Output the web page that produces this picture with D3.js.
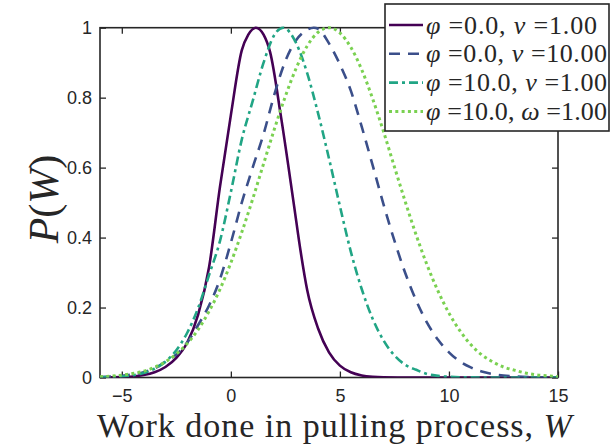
<!DOCTYPE html>
<html>
<head>
<meta charset="utf-8">
<script src="https://cdn.jsdelivr.net/npm/d3@7"></script>
<style>
  body { margin: 0; background: #fff; }
  svg { display: block; }
</style>
</head>
<body>
<svg id="chart" width="611" height="446"></svg>
<script>
// Work distributions P(W) for four pulling protocols (each normalised to a peak of 1)
const workA = [-6, -5, -4.5, -4, -3.5, -3, -2.5, -2, -1.5, -1, -0.5, 0, 0.5, 0.8, 1.15, 1.5, 1.8, 2.3, 2.9, 3.2, 3.5, 4, 4.5, 5, 5.5, 6, 6.5, 7, 8, 15];
const probA = [0, 0.001, 0.003, 0.007, 0.015, 0.03, 0.056, 0.1, 0.18, 0.315, 0.545, 0.75, 0.935, 0.98, 1, 0.98, 0.93, 0.745, 0.49, 0.36, 0.25, 0.14, 0.072, 0.034, 0.015, 0.006, 0.002, 0.0005, 0, 0];

const workB = [-6, -5, -4.5, -4, -3.5, -3, -2.5, -2, -1.5, -1, -0.5, 0, 0.5, 1, 1.5, 2, 2.5, 3, 3.5, 3.8, 4, 4.5, 5, 5.5, 6, 6.5, 7, 7.5, 8, 8.5, 9, 9.5, 10, 10.5, 11, 11.5, 12, 12.5, 13, 14, 15];
const probB = [0.0014, 0.005, 0.009, 0.015, 0.026, 0.045, 0.066, 0.1, 0.15, 0.206, 0.281, 0.385, 0.5, 0.6, 0.696, 0.81, 0.905, 0.965, 0.994, 1, 0.997, 0.955, 0.895, 0.82, 0.717, 0.607, 0.495, 0.391, 0.298, 0.22, 0.156, 0.108, 0.072, 0.046, 0.029, 0.017, 0.01, 0.0056, 0.003, 0.0008, 0.0002];

const workC = [-6, -5, -4.5, -4, -3.5, -3, -2.5, -2, -1.5, -1, -0.5, 0, 0.5, 1, 1.5, 2, 2.4, 3, 3.5, 4, 4.5, 5, 5.5, 6, 6.5, 7, 7.5, 8, 8.5, 9, 9.5, 10, 11, 12, 15];
const probC = [0.0006, 0.003, 0.0064, 0.013, 0.025, 0.045, 0.078, 0.128, 0.199, 0.293, 0.39, 0.53, 0.68, 0.79, 0.9, 0.98, 1, 0.955, 0.87, 0.755, 0.626, 0.49, 0.36, 0.253, 0.168, 0.106, 0.063, 0.036, 0.022, 0.0098, 0.0047, 0.002, 0.0003, 0, 0];

const workD = [-6, -5, -4.5, -4, -3.5, -3, -2.5, -2, -1.5, -1, -0.5, 0, 0.5, 1, 1.5, 2, 2.5, 3, 3.5, 4, 4.5, 5, 5.5, 6, 6.5, 7, 7.5, 8, 8.5, 9, 9.5, 10, 10.5, 11, 11.5, 12, 12.5, 13, 13.5, 14, 14.5, 15];
const probD = [0.0022, 0.0068, 0.0113, 0.018, 0.029, 0.045, 0.067, 0.097, 0.137, 0.189, 0.252, 0.328, 0.415, 0.51, 0.611, 0.711, 0.804, 0.885, 0.948, 0.987, 1, 0.985, 0.944, 0.88, 0.797, 0.703, 0.602, 0.502, 0.407, 0.321, 0.247, 0.184, 0.134, 0.094, 0.065, 0.045, 0.03, 0.021, 0.013, 0.0075, 0.005, 0.002];

// Legend entries: phi, rate symbol, rate value
const legendPhi = ["0.0", "0.0", "10.0", "10.0"];
const legendSym = ["v", "v", "v", "\u03C9"];
const legendVal = ["1.00", "10.00", "1.00", "1.00"];

const xTicks = [-5, 0, 5, 10, 15];
const yTicks = [0, 0.2, 0.4, 0.6, 0.8, 1];
const yTickLabels = ["0", "0.2", "0.4", "0.6", "0.8", "1"];

const series = [
  { w: workA, p: probA, color: "#440154", dash: null, width: 2.6 },
  { w: workB, p: probB, color: "#3b4f8a", dash: "11,8", width: 2.6 },
  { w: workC, p: probC, color: "#21a585", dash: "9,4,3,4", width: 2.6 },
  { w: workD, p: probD, color: "#7ad151", dash: "3,3.3", width: 3 }
];

const svg = d3.select("#chart");
const box = { left: 100, right: 558, top: 27.7, bottom: 377.5 };
const axisColor = "#262626";

const x = d3.scaleLinear().domain([-6, 15]).range([box.left, box.right]);
const y = d3.scaleLinear().domain([0, 1]).range([box.bottom, box.top]);

svg.append("defs").append("clipPath").attr("id", "plotClip")
  .append("rect")
  .attr("x", box.left).attr("y", box.top - 3)
  .attr("width", box.right - box.left).attr("height", box.bottom - box.top + 3);

// Axes with inward ticks on all four sides
const tickFont = "'Liberation Sans', Arial, sans-serif";
function styleAxis(g) {
  g.select(".domain").remove();
  g.selectAll(".tick line").attr("stroke", axisColor).attr("stroke-width", 1.3);
  g.selectAll(".tick text").attr("fill", axisColor)
    .style("font-family", tickFont).style("font-size", "18px");
}

svg.append("g").attr("transform", `translate(0,${box.bottom})`)
  .call(d3.axisBottom(x).tickValues(xTicks).tickSize(-6).tickPadding(12).tickFormat(d3.format("d")))
  .call(styleAxis);
svg.append("g").attr("transform", `translate(0,${box.top})`)
  .call(d3.axisTop(x).tickValues(xTicks).tickSize(-6).tickFormat(""))
  .call(styleAxis);
svg.append("g").attr("transform", `translate(${box.left},0)`)
  .call(d3.axisLeft(y).tickValues(yTicks).tickSize(-6).tickPadding(8)
    .tickFormat((d, i) => yTickLabels[i]))
  .call(styleAxis);
svg.append("g").attr("transform", `translate(${box.right},0)`)
  .call(d3.axisRight(y).tickValues(yTicks).tickSize(-6).tickFormat(""))
  .call(styleAxis);

// Plot frame
svg.append("rect")
  .attr("x", box.left).attr("y", box.top)
  .attr("width", box.right - box.left).attr("height", box.bottom - box.top)
  .attr("fill", "none").attr("stroke", axisColor).attr("stroke-width", 1.6);

// Curves
const line = d3.line()
  .x(d => x(d[0]))
  .y(d => y(d[1]))
  .curve(d3.curveMonotoneX);

const curves = svg.append("g").attr("clip-path", "url(#plotClip)");
series.forEach(s => {
  const pts = s.w.map((w, i) => [w, s.p[i]]);
  curves.append("path")
    .datum(pts)
    .attr("d", line)
    .attr("fill", "none")
    .attr("stroke", s.color)
    .attr("stroke-width", s.width)
    .attr("stroke-dasharray", s.dash)
    .attr("stroke-linejoin", "round");
});

// Axis titles
const serif = "'Liberation Serif', 'DejaVu Serif', serif";
const xt = svg.append("text")
  .attr("x", 335).attr("y", 437)
  .attr("text-anchor", "middle")
  .style("font-family", serif).style("font-size", "34px")
  .style("letter-spacing", "1px").attr("fill", axisColor);
xt.append("tspan").text("Work done in pulling process, ");
xt.append("tspan").style("font-style", "italic").text("W");

const yt = svg.append("text")
  .attr("transform", "translate(58,199) rotate(-90)")
  .attr("text-anchor", "middle")
  .style("font-family", serif).style("font-size", "42px").attr("fill", axisColor);
yt.append("tspan").style("font-style", "italic").text("P");
yt.append("tspan").text("(");
yt.append("tspan").style("font-style", "italic").text("W");
yt.append("tspan").text(")");

// Legend
const lg = svg.append("g");
lg.append("rect")
  .attr("x", 385).attr("y", 4).attr("width", 224).attr("height", 127)
  .attr("fill", "#fff").attr("stroke", axisColor).attr("stroke-width", 1.6);

const rowWidths = [171, 181, 181, 181];
series.forEach((s, i) => {
  const cy = 25 + i * 28.8;
  lg.append("line")
    .attr("x1", 389).attr("x2", 423).attr("y1", cy).attr("y2", cy)
    .attr("stroke", s.color).attr("stroke-width", s.width)
    .attr("stroke-dasharray", s.dash);
  const t = lg.append("text")
    .attr("x", 426).attr("y", cy + 8.5)
    .attr("textLength", rowWidths[i]).attr("lengthAdjust", "spacing")
    .style("font-family", serif).style("font-size", "26px").attr("fill", axisColor);
  t.append("tspan").style("font-style", "italic").text("\u03C6");
  t.append("tspan").text(` =${legendPhi[i]}, `);
  t.append("tspan").style("font-style", "italic").text(legendSym[i]);
  t.append("tspan").text(` =${legendVal[i]}`);
});
</script>
</body>
</html>
